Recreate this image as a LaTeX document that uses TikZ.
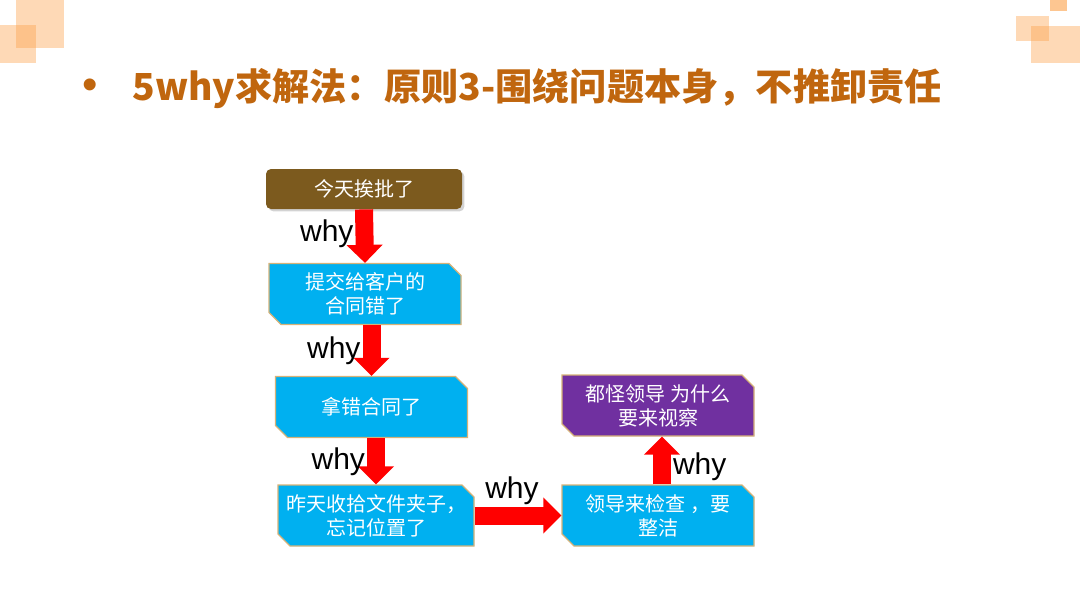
\documentclass[tikz,border=0pt]{standalone}
\usepackage{fontspec}
\setmainfont{Liberation Sans}
\newfontfamily\cjk{Noto Sans CJK SC}
\usetikzlibrary{shapes.misc, arrows.meta, shadows}
\definecolor{titlebrown}{RGB}{192,102,14}
\definecolor{boxbrown}{RGB}{124,90,30}
\definecolor{boxcyan}{RGB}{0,176,240}
\definecolor{boxpurple}{RGB}{112,48,160}
\definecolor{boxline}{RGB}{214,178,120}
\definecolor{decoorange}{RGB}{252,160,72}

\begin{document}
\begin{tikzpicture}[x=0.5pt, y=-0.5pt,
  box/.style={chamfered rectangle, chamfered rectangle corners={north east, south west},
    chamfered rectangle xsep=3pt, chamfered rectangle ysep=3pt,
    draw=boxline, line width=0.6pt, fill=boxcyan, text=white, align=center,
    minimum width=96pt, minimum height=30.5pt, inner sep=1pt,
    font=\cjk\fontsize{10}{12}\selectfont},
  whyarr/.style={red, line width=9pt, -{Triangle[width=17.5pt, length=9pt]}},
  whytxt/.style={text=black, font=\fontsize{15}{15}\selectfont, inner sep=0pt},
  deco/.style={fill=decoorange, fill opacity=0.4}]
  \useasboundingbox (0,0) rectangle (1080,607);
  % corner squares
  \fill[deco] (16,0) rectangle (64,48);
  \fill[deco] (0,25) rectangle (36,63);
  \fill[deco, fill opacity=0.6] (1050,0) rectangle (1067,11);
  \fill[deco] (1016,16) rectangle (1049,41);
  \fill[deco] (1031,26) rectangle (1080,63);
  % title
  \node[text=titlebrown, font=\fontsize{22}{22}\selectfont] (dot) at (90,89) {•};
  \node[anchor=west, text=titlebrown, inner sep=0pt, font=\cjk\bfseries\fontsize{18.6}{19}\selectfont] (title) at (132,89)
    {5why求解法：原则3-围绕问题本身，不推卸责任};
  % boxes
  \node[rounded corners=2.5pt, fill=boxbrown, text=white, minimum width=98pt, minimum height=20pt,
    font=\cjk\fontsize{10}{12}\selectfont,
    drop shadow={opacity=0.35, shadow xshift=1.2pt, shadow yshift=-1.2pt}] (today) at (364,189) {今天挨批了};
  \node[box] (contract) at (365,294) {提交给客户的\\合同错了};
  \node[box] (wrong) at (371.5,407) {拿错合同了};
  \node[box] (folder) at (376,515.5) {昨天收拾文件夹子，\\忘记位置了};
  \node[box] (inspect) at (658,515.5) {领导来检查 ，要\\整洁};
  \node[box, fill=boxpurple] (blame) at (658,405.5) {都怪领导 为什么\\要来视察};
  % why arrows
  \draw[whyarr] (today.south) -- (contract.north) node[whytxt, midway, left=1pt, yshift=1pt] {why};
  \draw[whyarr] (contract.south -| wrong) -- (wrong.north) node[whytxt, midway, left=1pt, yshift=0pt] {why};
  \draw[whyarr] (wrong.south -| folder) -- (folder.north) node[whytxt, midway, left=1pt, yshift=0pt] {why};
  \draw[whyarr] (folder.east) -- (inspect.west) node[whytxt, midway, above=1pt, xshift=-3pt] {why};
  \draw[whyarr] ([xshift=2pt]inspect.north) -- ([xshift=2pt]blame.south) node[whytxt, midway, right=1pt, yshift=-3pt] {why};
\end{tikzpicture}
\end{document}
